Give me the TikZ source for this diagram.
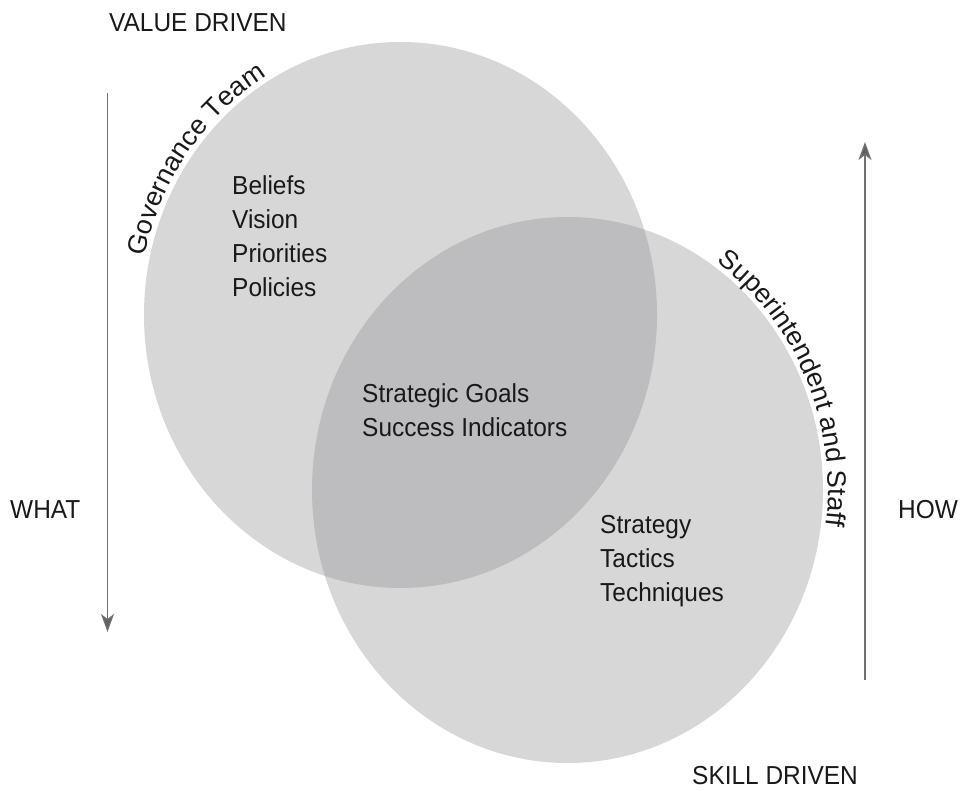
\documentclass[tikz,border=0pt]{standalone}
\usepackage{fontspec}
\setmainfont{Liberation Sans}[FakeStretch=0.94]
\newfontfamily\arcfamily{Liberation Sans}[FakeStretch=1.02]
\usetikzlibrary{arrows.meta,decorations.text}
\definecolor{circfill}{RGB}{215,215,215}
\definecolor{overfill}{RGB}{189,189,192}
\definecolor{arrowgray}{RGB}{112,112,112}
\definecolor{inkcol}{RGB}{25,25,25}
\newcommand{\lblfont}{\fontsize{26}{34}\selectfont}
\newcommand{\arclblfont}{\arcfamily\fontsize{26.5}{34}\selectfont}
\begin{document}
\begin{tikzpicture}[x=1pt,y=1pt,
  lbl/.style={font=\lblfont, inner sep=0pt, anchor=base west, text=inkcol},
  axisarrow/.style={draw=arrowgray, line width=1.4pt, -{Stealth[length=18pt,width=13pt,inset=5pt,fill=arrowgray!85!black]}}]
\useasboundingbox (0,0) rectangle (965,790);
% circles
\path[fill=circfill] (400.5,475) ellipse [x radius=256.5, y radius=273];
\path[fill=circfill] (567.5,300) ellipse [x radius=255.5, y radius=273];
\begin{scope}
  \clip (400.5,475) ellipse [x radius=256.5, y radius=273];
  \fill[overfill] (567.5,300) ellipse [x radius=255.5, y radius=273];
\end{scope}
% corner labels
\node[lbl] (vd) at (109,758) {VALUE DRIVEN};
\node[lbl] (sd) at (692,6) {SKILL DRIVEN};
\node[lbl] (what) at (10,272) {WHAT};
\node[lbl] (how) at (898,272) {HOW};
% inner texts
\node[lbl] (b1) at (232,595) {Beliefs};
\node[lbl] (b2) at (232,561) {Vision};
\node[lbl] (b3) at (232,527) {Priorities};
\node[lbl] (b4) at (232,493) {Policies};
\node[lbl] (g1) at (362,387) {Strategic Goals};
\node[lbl] (g2) at (362,353) {Success Indicators};
\node[lbl] (s1) at (600,257) {Strategy};
\node[lbl] (s2) at (600,223) {Tactics};
\node[lbl] (s3) at (600,189) {Techniques};
% arrows
\coordinate (wtop) at (107.5,697);
\coordinate (wtip) at (107.5,158);
\draw[axisarrow] (wtop) -- (wtip);
\coordinate (hbot) at (865,110);
\coordinate (htip) at (865,648);
\draw[axisarrow] (hbot) -- (htip);
% curved labels
\path[decorate, decoration={text along path, text align=center, text color=inkcol,
      text={|\arclblfont|Governance Team}}]
  ([shift={(180:261.5 and 278)}]400.5,475) arc [start angle=180, end angle=108, x radius=261.5, y radius=278];
\path[decorate, decoration={text along path, text align=center, text color=inkcol,
      text={|\arclblfont|Superintendent and Staff}}]
  ([shift={(64:260.5 and 278)}]567.5,300) arc [start angle=64, end angle=-16, x radius=260.5, y radius=278];
\end{tikzpicture}
\end{document}
